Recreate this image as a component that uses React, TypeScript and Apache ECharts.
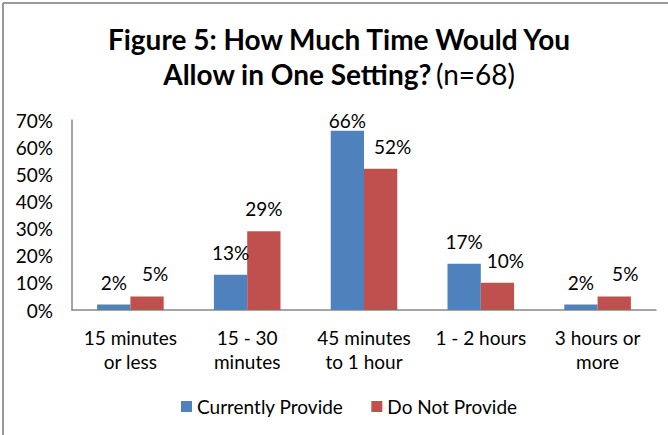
import React, { useEffect, useRef } from "react";
import * as echarts from "echarts";

const categories = [
  "15 minutes\nor less",
  "15 - 30\nminutes",
  "45 minutes\nto 1 hour",
  "1 - 2 hours",
  "3 hours or\nmore",
];
const currentlyProvide = [2, 13, 66, 17, 2];
const doNotProvide = [5, 29, 52, 10, 5];
const seriesNames = ["Currently Provide", "Do Not Provide"];

// label nudges as placed in the original (style only)
const blueLabelDistance = [13, 13, 1, 13, 13];
const redLabelDx = [8, 0, 12, 8, 11];

const FONT = "Lato, 'Open Sans', sans-serif";

export default function App() {
  const ref = useRef<HTMLDivElement>(null);
  useEffect(() => {
    document.body.style.margin = "0";
    const chart = echarts.init(ref.current!, null, { renderer: "svg" });
    const labelStyle = {
      show: true,
      position: "top" as const,
      formatter: "{c}%",
      color: "#000",
      fontSize: 19,
      fontFamily: FONT,
      distance: 13,
    };
    chart.setOption({
      animation: false,
      backgroundColor: "#fff",
      textStyle: { fontFamily: FONT },
      title: {
        text: "{b|Figure 5: How Much Time Would You}\n{b|Allow in One Setting?} {n|(n=68)}",
        left: 339,
        top: 21,
        padding: 0,
        textAlign: "center",
        textStyle: {
          rich: {
            b: { fontSize: 28, fontWeight: "bold", color: "#000", fontFamily: FONT, lineHeight: 35 },
            n: { fontSize: 28, fontWeight: "normal", color: "#000", fontFamily: FONT, lineHeight: 35 },
          },
        },
      },
      graphic: [
        { type: "line", shape: { x1: 3, y1: 3, x2: 668, y2: 3 }, style: { stroke: "#999", lineWidth: 2 } },
        { type: "line", shape: { x1: 3, y1: 3, x2: 3, y2: 435 }, style: { stroke: "#999", lineWidth: 2 } },
      ],
      legend: {
        data: seriesNames,
        left: 176,
        top: 392,
        itemWidth: 11,
        itemHeight: 11,
        itemGap: 28,
        icon: "rect",
        textStyle: { fontSize: 19, color: "#000", fontFamily: FONT },
      },
      grid: { left: 72, right: 12, top: 120, bottom: 125 },
      xAxis: {
        type: "category",
        data: categories,
        axisLine: { lineStyle: { color: "#888", width: 1.5 } },
        axisTick: { show: false },
        axisLabel: { fontSize: 19, color: "#000", lineHeight: 24, margin: 15, fontFamily: FONT, interval: 0 },
      },
      yAxis: {
        type: "value",
        min: 0,
        max: 70,
        interval: 10,
        axisLine: { show: true, lineStyle: { color: "#888", width: 1.5 } },
        axisTick: { show: false },
        splitLine: { show: false },
        axisLabel: { formatter: "{value}%", fontSize: 19, color: "#000", margin: 19, fontFamily: FONT },
      },
      series: [
        {
          name: seriesNames[0],
          type: "bar",
          data: currentlyProvide.map((v, i) => ({ value: v, label: { distance: blueLabelDistance[i] } })),
          itemStyle: { color: "#4F81BD" },
          barGap: "0%",
          barCategoryGap: "43%",
          label: labelStyle,
        },
        {
          name: seriesNames[1],
          type: "bar",
          data: doNotProvide.map((v, i) => ({ value: v, label: { offset: [redLabelDx[i], 0] } })),
          itemStyle: { color: "#C0504D" },
          barGap: "0%",
          barCategoryGap: "43%",
          label: labelStyle,
        },
      ],
    });
    return () => chart.dispose();
  }, []);
  return <div ref={ref} style={{ width: 668, height: 435 }} />;
}
